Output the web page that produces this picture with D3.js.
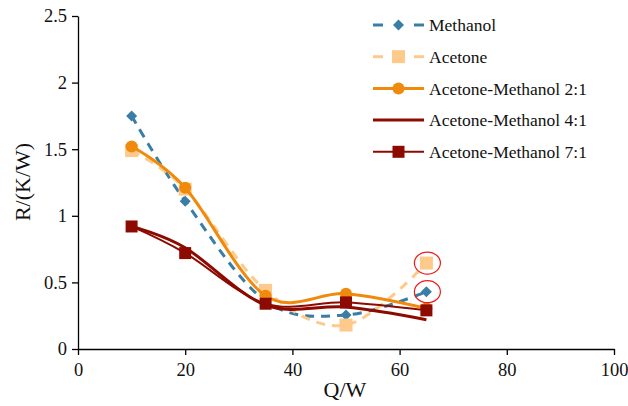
<!DOCTYPE html>
<html lang="en">
<head>
<meta charset="UTF-8">
<title>R vs Q</title>
<script src="https://d3js.org/d3.v7.min.js"></script>
<style>
  body { margin: 0; background: #fff; }
  text { font-family: "Liberation Serif", "Times New Roman", serif; fill: #111; }
  .axis path, .axis line { stroke: #000; stroke-width: 1.3px; }
  .axis text { font-size: 18.5px; font-family: "Liberation Serif", "Times New Roman", serif; }
</style>
</head>
<body>
<div id="chart"></div>
<script>
// data
const q = [10, 20, 35, 50, 65];
const methanol = [1.75, 1.11, 0.36, 0.255, 0.43];
const acetone = [1.49, 1.20, 0.44, 0.18, 0.645];
const am21 = [1.52, 1.21, 0.40, 0.415, 0.305];
const am41 = [0.92, 0.76, 0.33, 0.315, 0.22];
const am71 = [0.92, 0.72, 0.34, 0.35, 0.29];
const xTicks = [0, 20, 40, 60, 80, 100];
const yTicks = [0, 0.5, 1, 1.5, 2, 2.5];

const series = [
  { name: "Methanol", values: methanol, color: "#3a7ea6", width: 3, dash: "9,7", marker: "diamond", msize: 11 },
  { name: "Acetone", values: acetone, color: "#fdca8b", width: 3, dash: "9,7", marker: "square", msize: 13 },
  { name: "Acetone-Methanol 2:1", values: am21, color: "#ef8a0c", width: 3, dash: null, marker: "circle", msize: 12 },
  { name: "Acetone-Methanol 4:1", values: am41, color: "#8d0a00", width: 3, dash: null, marker: "none", msize: 0 },
  { name: "Acetone-Methanol 7:1", values: am71, color: "#8d0a00", width: 2, dash: null, marker: "square", msize: 12 }
];

const W = 628, H = 406;
const margin = { top: 16, right: 14, bottom: 57, left: 78 };
const width = W - margin.left - margin.right;
const height = H - margin.top - margin.bottom;

const svg = d3.select("#chart").append("svg")
  .attr("width", W).attr("height", H);
const g = svg.append("g")
  .attr("transform", `translate(${margin.left},${margin.top})`);

const x = d3.scaleLinear().domain([0, 100]).range([0, width]);
const y = d3.scaleLinear().domain([0, 2.5]).range([height, 0]);

g.append("g")
  .attr("class", "axis")
  .attr("transform", `translate(0,${height})`)
  .call(d3.axisBottom(x).tickValues(xTicks).tickSize(6).tickSizeOuter(0).tickPadding(5))
  .selectAll("text").attr("dy", "0.85em");

g.append("g")
  .attr("class", "axis")
  .call(d3.axisLeft(y).tickValues(yTicks).tickFormat(d3.format("")).tickSize(6).tickSizeOuter(0).tickPadding(5));

// axis titles
g.append("text")
  .attr("x", width / 2 - 1)
  .attr("y", height + 48)
  .attr("text-anchor", "middle")
  .style("font-size", "22px")
  .text("Q/W");

g.append("text")
  .attr("transform", "rotate(-90)")
  .attr("x", -166)
  .attr("y", -48)
  .attr("text-anchor", "middle")
  .style("font-size", "22px")
  .text("R/(K/W)");

const line = d3.line()
  .x((d, i) => x(q[i]))
  .y(d => y(d))
  .curve(d3.curveCatmullRom.alpha(0));

function drawMarker(sel, type, size, color) {
  if (type === "circle") {
    sel.append("circle").attr("r", size / 2).attr("fill", color);
  } else if (type === "square") {
    sel.append("rect")
      .attr("x", -size / 2).attr("y", -size / 2)
      .attr("width", size).attr("height", size)
      .attr("fill", color);
  } else if (type === "diamond") {
    const s = size / 2;
    sel.append("path")
      .attr("d", `M0,${-s}L${s},0L0,${s}L${-s},0Z`)
      .attr("fill", color);
  }
}

series.forEach(s => {
  const sg = g.append("g");
  sg.append("path")
    .datum(s.values)
    .attr("fill", "none")
    .attr("stroke", s.color)
    .attr("stroke-width", s.width)
    .attr("stroke-dasharray", s.dash)
    .attr("d", line);
  s.values.forEach((v, i) => {
    const m = sg.append("g").attr("transform", `translate(${x(q[i])},${y(v)})`);
    drawMarker(m, s.marker, s.msize, s.color);
  });
});

// red rings around the two outlying points at Q = 65
[acetone, methanol].forEach(vals => {
  g.append("ellipse")
    .attr("cx", x(q[4]) + 1)
    .attr("cy", y(vals[4]))
    .attr("rx", 13)
    .attr("ry", 11)
    .attr("fill", "none")
    .attr("stroke", "#f01818")
    .attr("stroke-width", 1.2);
});

// legend
const legend = svg.append("g").attr("transform", "translate(373,25)");
series.forEach((s, i) => {
  const row = legend.append("g").attr("transform", `translate(0,${i * 31.7})`);
  if (s.dash) {
    row.append("line").attr("x1", 0).attr("x2", 10).attr("stroke", s.color).attr("stroke-width", s.width);
    row.append("line").attr("x1", 41).attr("x2", 51).attr("stroke", s.color).attr("stroke-width", s.width);
  } else {
    row.append("line").attr("x1", 0).attr("x2", 51).attr("stroke", s.color).attr("stroke-width", s.width);
  }
  const m = row.append("g").attr("transform", "translate(25.5,0)");
  drawMarker(m, s.marker, s.msize, s.color);
  row.append("text")
    .attr("x", 56)
    .attr("dy", "0.35em")
    .style("font-size", "17.5px")
    .text(s.name);
});
</script>
</body>
</html>
